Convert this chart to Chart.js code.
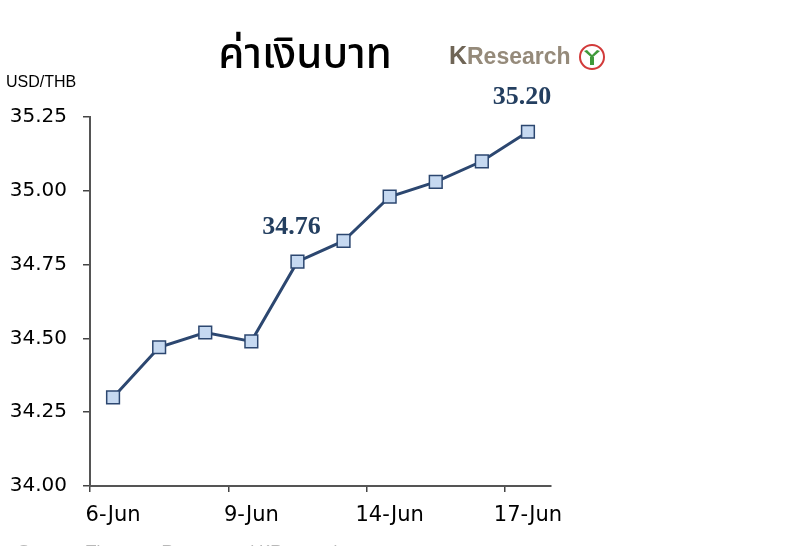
<!DOCTYPE html>
<html>
<head>
<meta charset="utf-8">
<script src="https://cdn.jsdelivr.net/npm/chart.js@4"></script>
<style>
  html, body { margin: 0; padding: 0; background: #fff; }
  #wrap { position: relative; width: 800px; height: 546px; }
</style>
</head>
<body>
<div id="wrap"><canvas id="myChart" width="800" height="546"></canvas></div>
<script>
// data
var days = ['6-Jun', '7-Jun', '8-Jun', '9-Jun', '10-Jun', '13-Jun', '14-Jun', '15-Jun', '16-Jun', '17-Jun'];
var usdThb = [34.30, 34.47, 34.52, 34.49, 34.76, 34.83, 34.98, 35.03, 35.10, 35.20];
var labelled = [4, 9]; // points that carry a value label
var yTicks = [34.00, 34.25, 34.50, 34.75, 35.00, 35.25];

var navy = '#2c4770';
var tickFont = '"DejaVu Sans", Verdana, sans-serif';

// title, logo, unit label, source and value labels
var extras = {
    id: 'extras',
    afterDatasetsDraw: function (chart) {
        var c = chart.ctx;
        c.save();
        c.textBaseline = 'middle';

        // title
        c.fillStyle = '#000';
        c.textAlign = 'center';
        c.font = '500 42px "Noto Sans Thai", "Noto Sans", "DejaVu Sans", sans-serif';
        c.fillText('ค่าเงินบาท', 305, 60);

        // logo
        c.textAlign = 'left';
        c.font = 'bold 25px "Liberation Sans", Arial, sans-serif';
        c.fillStyle = '#6f6556';
        c.fillText('K', 449, 57);
        c.font = 'bold 23px "Liberation Sans", Arial, sans-serif';
        c.fillStyle = '#958a7a';
        c.fillText('Research', 467, 58);
        c.beginPath();
        c.arc(592, 57, 12, 0, Math.PI * 2);
        c.strokeStyle = '#d23a3a';
        c.lineWidth = 2;
        c.stroke();
        c.fillStyle = '#3f9a3a';
        c.beginPath();
        c.moveTo(584, 51); c.lineTo(592, 58); c.lineTo(600, 51);
        c.lineTo(597, 50); c.lineTo(592, 55); c.lineTo(587, 50);
        c.closePath();
        c.fill();
        c.fillRect(590, 57, 4, 8);

        // unit label
        c.fillStyle = '#000';
        c.font = '16px "Liberation Sans", Arial, sans-serif';
        c.fillText('USD/THB', 6, 83);

        // source (cut at the bottom edge)
        c.fillStyle = '#b8b8b8';
        c.font = '17px "Liberation Sans", Arial, sans-serif';
        c.fillText('Source : Thomson Reuters and KResearch', 18, 552);

        // value labels
        var meta = chart.getDatasetMeta(0);
        c.fillStyle = '#243f60';
        c.textAlign = 'center';
        c.font = 'bold 26px "Liberation Serif", "Times New Roman", serif';
        labelled.forEach(function (i) {
            var pt = meta.data[i];
            c.fillText(usdThb[i].toFixed(2), pt.x - 6, pt.y - 34);
        });
        c.restore();
    }
};

var ctx = document.getElementById('myChart');

var lineChart = new Chart(ctx, {
    type: 'line',
    data: {
        labels: days,
        datasets: [{
            label: 'USD/THB',
            data: usdThb,
            borderColor: navy,
            borderWidth: 3,
            pointStyle: 'rect',
            pointRadius: 9,
            pointBorderWidth: 1.5,
            pointBackgroundColor: '#c6d9f1',
            pointBorderColor: navy,
            tension: 0
        }]
    },
    options: {
        responsive: false,
        animation: false,
        layout: { padding: { left: 0, right: 249, top: 117, bottom: 0 } },
        plugins: {
            legend: { display: false },
            tooltip: { enabled: false }
        },
        scales: {
            x: {
                offset: true,
                grid: {
                    offset: true,
                    drawOnChartArea: false,
                    tickLength: 6,
                    color: function (c) { return c.index % 3 === 0 ? '#444' : 'rgba(0,0,0,0)'; },
                    lineWidth: 1.5
                },
                border: { color: '#555', width: 2 },
                ticks: {
                    autoSkip: false,
                    maxRotation: 0,
                    color: '#000',
                    font: { family: tickFont, size: 21 },
                    padding: 11,
                    callback: function (v, i) { return i % 3 === 0 ? days[i] : ''; }
                },
                afterFit: function (scale) { scale.height = 60; }
            },
            y: {
                min: yTicks[0],
                max: yTicks[yTicks.length - 1],
                afterBuildTicks: function (scale) {
                    scale.ticks = yTicks.map(function (v) { return { value: v }; });
                },
                grid: {
                    drawOnChartArea: false,
                    tickLength: 7,
                    color: '#444',
                    lineWidth: 1.5
                },
                border: { color: '#555', width: 2 },
                ticks: {
                    color: '#000',
                    font: { family: tickFont, size: 20 },
                    padding: 16,
                    callback: function (v) { return Number(v).toFixed(2); }
                },
                afterFit: function (scale) { scale.width = 90; }
            }
        }
    },
    plugins: [extras]
});
</script>
</body>
</html>
